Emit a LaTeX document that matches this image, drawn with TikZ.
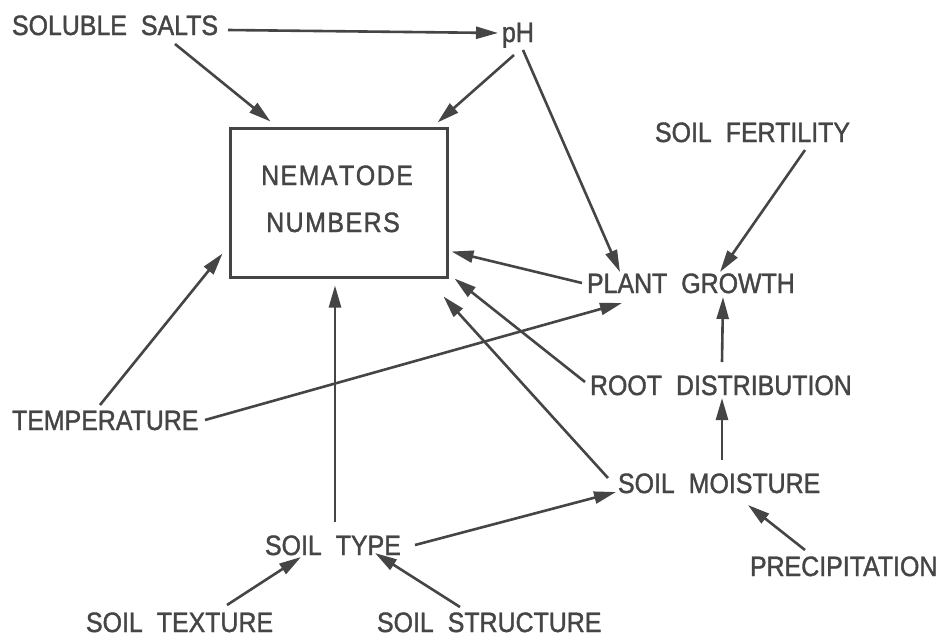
\documentclass[tikz,border=0pt]{standalone}
\usepackage{fontspec}
\setmainfont[FakeStretch=0.89,FakeBold=1.3]{Liberation Sans}
\usetikzlibrary{arrows.meta,calc}
\definecolor{ink}{HTML}{454545}
\newcommand{\wgap}{\hspace{0.5em}}
\begin{document}
\begin{tikzpicture}[x=1pt,y=-1pt,
  lbl/.style={anchor=base west,inner sep=0pt,outer sep=0pt,text=ink,font=\fontsize{28}{30}\selectfont},
  arr/.style={draw=ink,line width=2.6pt,-{Triangle[length=22pt,width=12pt]}},
  boxstyle/.style={draw=ink,line width=3pt,minimum width=217pt,minimum height=149pt,inner sep=0pt}]
\useasboundingbox[fill=white] (0,0) rectangle (948,643);
% nodes
\node[boxstyle] (box) at (338.5,202.5) {};
\node[lbl,anchor=base] (nem) at (337,185) {N\kern1.5pt E\kern1.5pt M\kern1.5pt A\kern1.5pt T\kern1.5pt O\kern1.5pt D\kern1.5pt E};
\node[lbl,anchor=base] (num) at (333,232) {N\kern1.5pt U\kern1.5pt M\kern1.5pt B\kern1.5pt E\kern1.5pt R\kern1.5pt S};
\node[lbl] (salts) at (12,35) {SOLUBLE\wgap SALTS};
\node[lbl] (ph) at (502,42) {pH};
\node[lbl] (fert) at (655,142) {SOIL\wgap FERTILITY};
\node[lbl] (plant) at (587,293) {PLANT\wgap GROWTH};
\node[lbl] (temp) at (12,430) {TEMPERATURE};
\node[lbl] (root) at (590,395) {ROOT\wgap DISTRIBUTION};
\node[lbl] (moist) at (618,493) {SOIL\wgap MOISTURE};
\node[lbl] (type) at (265,555) {SOIL\wgap TYPE};
\node[lbl] (precip) at (750,576) {PRECIPITATION};
\node[lbl] (texture) at (86,632) {SOIL\wgap TEXTURE};
\node[lbl] (structure) at (377,632) {SOIL\wgap STRUCTURE};
% connectors
\draw[arr] ($(salts.base west)+(216,-5)$) -- ($(ph.base west)+(-4,-9)$);
\draw[arr] ($(salts.base west)+(163,9)$) -- ($(box.north west)+(42,-5)$);
\draw[arr] ($(ph.base west)+(12,13)$) -- ($(box.north east)+(-11,-4)$);
\draw[arr] ($(ph.base west)+(21,8)$) -- ($(plant.base west)+(33,-21)$);
\draw[arr] ($(fert.base west)+(150,8)$) -- ($(plant.base west)+(133,-21)$);
\draw[arr] ($(plant.base west)+(-5,-10)$) -- ($(box.south east)+(3,-27)$);
\draw[arr] ($(temp.base west)+(88,-25)$) -- ($(box.south west)+(-6,-25)$);
\draw[arr] ($(temp.base west)+(193,-10)$) -- ($(plant.base west)+(35,10)$);
\draw[arr] ($(root.base west)+(-5,-13)$) -- ($(box.south east)+(6,0)$);
\draw[arr] ($(root.base west)+(132,-33)$) -- ($(plant.base west)+(136,4)$);
\draw[arr] ($(moist.base west)+(-10,-15)$) -- ($(box.south east)+(-5,18)$);
\draw[arr] ($(moist.base west)+(104,-33)$) -- ($(root.base west)+(132,3)$);
\draw[arr] ($(type.base west)+(70,-33)$) -- ($(box.south)+(-3.5,7)$);
\draw[arr] ($(type.base west)+(150,-10)$) -- ($(moist.base west)+(-2,-1)$);
\draw[arr] ($(precip.base west)+(55,-26)$) -- ($(moist.base west)+(130,12)$);
\draw[arr] ($(texture.base west)+(141,-27)$) -- ($(type.base west)+(36,2)$);
\draw[arr] ($(structure.base west)+(83,-25)$) -- ($(type.base west)+(110,-2)$);
\end{tikzpicture}
\end{document}
